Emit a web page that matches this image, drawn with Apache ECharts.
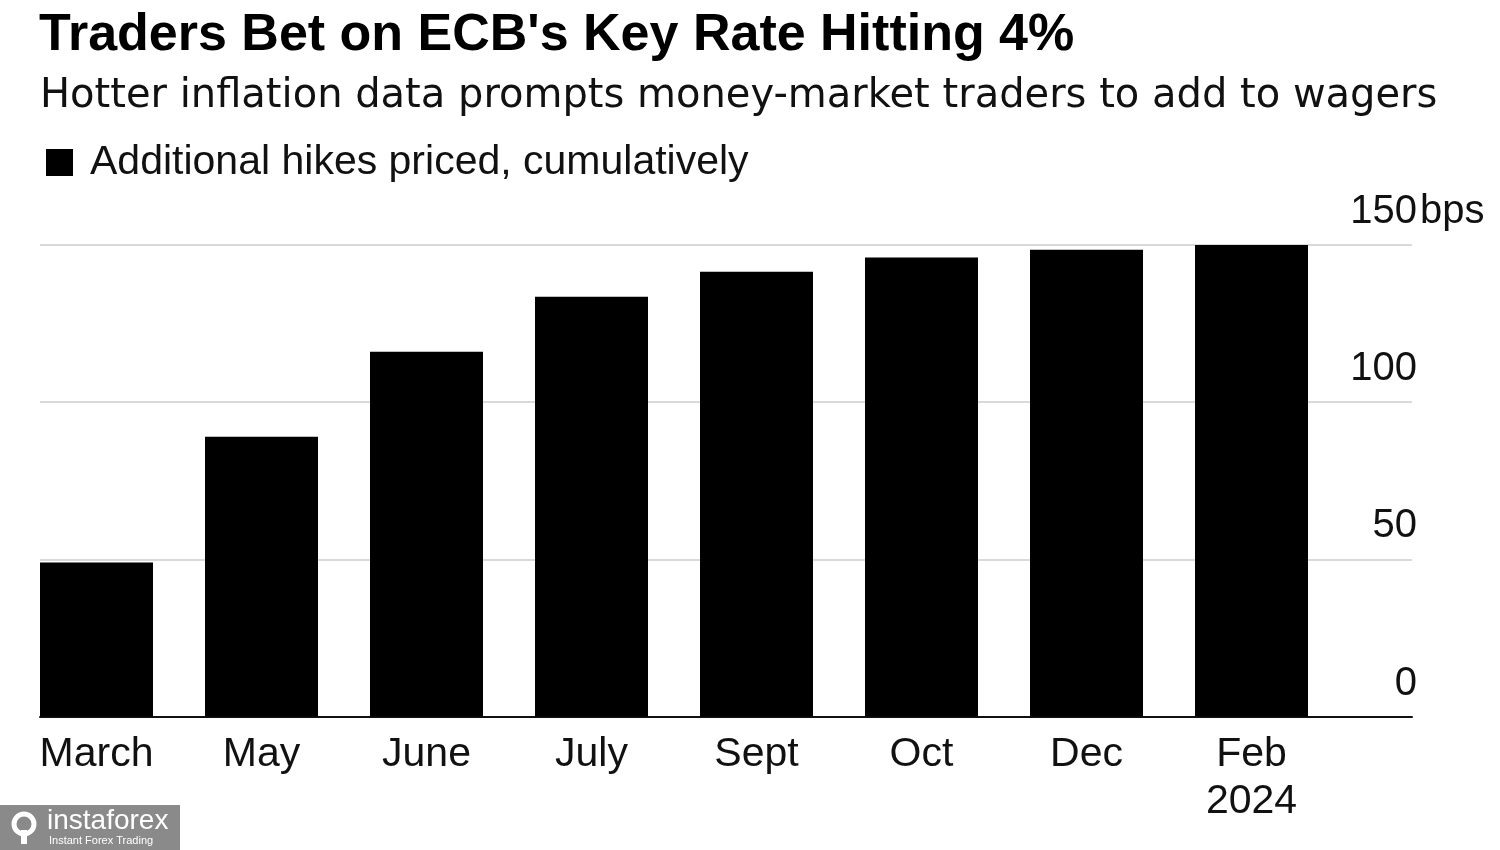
<!DOCTYPE html>
<html>
<head>
<meta charset="utf-8">
<style>html,body{margin:0;padding:0;background:#fff;}#c{width:1500px;height:850px;}</style>
<script src="https://cdn.jsdelivr.net/npm/echarts@6/dist/echarts.min.js"></script>
</head>
<body>
<div id="c"></div>
<script>
const categories = ['March', 'May', 'June', 'July', 'Sept', 'Oct', 'Dec', 'Feb\n2024'];
const hikes = [49, 89, 116, 133.5, 141.5, 146, 148.5, 150.5];
const yTicks = [0, 50, 100, 150];
const yUnit = 'bps';
const seriesName = 'Additional hikes priced, cumulatively';
const titleText = "Traders Bet on ECB's Key Rate Hitting 4%";
const subtitleText = 'Hotter inflation data prompts money-market traders to add to wagers';

const FONT = '"Liberation Sans", Arial, Helvetica, sans-serif';
const WIDE = '"DejaVu Sans", "Liberation Sans", sans-serif';
const chart = echarts.init(document.getElementById('c'), null, {renderer: 'canvas'});
chart.setOption({
  backgroundColor: '#fff',
  animation: false,
  textStyle: {fontFamily: FONT},
  title: [
    {text: titleText, left: 34, top: 5, textStyle: {fontFamily: FONT, fontSize: 52, fontWeight: 'bold', color: '#000'}},
    {text: subtitleText, left: 35, top: 72, textStyle: {fontFamily: WIDE, fontSize: 40, fontWeight: 'normal', color: '#111'}}
  ],
  legend: {
    left: 46, top: 142, padding: 0, icon: 'rect', itemWidth: 27, itemHeight: 27,
    textStyle: {fontFamily: FONT, fontSize: 41, color: '#111', padding: [0, 0, 0, 12]},
    data: [seriesName]
  },
  grid: [
    {left: 40, right: 88, top: 245, bottom: 133.5},
    {left: 14, width: 1320, top: 245, bottom: 133.5}
  ],
  xAxis: [
    {gridIndex: 0, type: 'value', min: 0, max: 1, axisLine: {show: true, lineStyle: {color: '#111', width: 2}},
     axisTick: {show: false}, axisLabel: {show: false}, splitLine: {show: false}},
    {gridIndex: 1, type: 'category', data: categories, axisLine: {show: false}, axisTick: {show: false},
     axisLabel: {fontFamily: FONT, fontSize: 41, color: '#111', lineHeight: 47, margin: 15, interval: 0}}
  ],
  yAxis: [
    {gridIndex: 0, type: 'value', position: 'right', min: 0, max: 150, interval: 50,
     axisLine: {show: false}, axisTick: {show: false},
     splitLine: {show: true, lineStyle: {color: '#d9d9d9', width: 2}},
     axisLabel: {
       fontFamily: FONT, fontSize: 40, color: '#111', align: 'right', verticalAlign: 'bottom',
       lineHeight: 40, margin: 5, padding: [0, 0, 13, 0]
     }},
    {gridIndex: 1, type: 'value', position: 'right', min: 0, max: 150, interval: 50,
     axisLine: {show: false}, axisTick: {show: false}, splitLine: {show: false},
     axisLabel: {
       fontFamily: FONT, fontSize: 40, color: '#111', align: 'left', verticalAlign: 'bottom',
       lineHeight: 40, margin: 86, padding: [0, 0, 13, 0],
       formatter: function (v) { return v === yTicks[yTicks.length - 1] ? yUnit : ''; }
     }}
  ],
  series: [{
    name: seriesName, type: 'bar', xAxisIndex: 1, yAxisIndex: 1, data: hikes,
    barWidth: 113, itemStyle: {color: '#000'}, z: 3
  }],
  graphic: [
    {type: 'rect', left: 0, top: 805, shape: {width: 180, height: 45}, style: {fill: '#8a8a8a'}, z: 10},
    {type: 'circle', shape: {cx: 24, cy: 824, r: 10}, style: {fill: 'none', stroke: '#fff', lineWidth: 5}, z: 11},
    {type: 'rect', shape: {x: 21, y: 830, width: 6, height: 14}, style: {fill: '#fff'}, z: 11},
    {type: 'text', left: 47, top: 807, style: {text: 'instaforex', fill: '#fff', font: '28px ' + FONT}, z: 11},
    {type: 'text', left: 49, top: 835, style: {text: 'Instant Forex Trading', fill: '#fff', font: '11px ' + FONT}, z: 11}
  ]
});
</script>
</body>
</html>
